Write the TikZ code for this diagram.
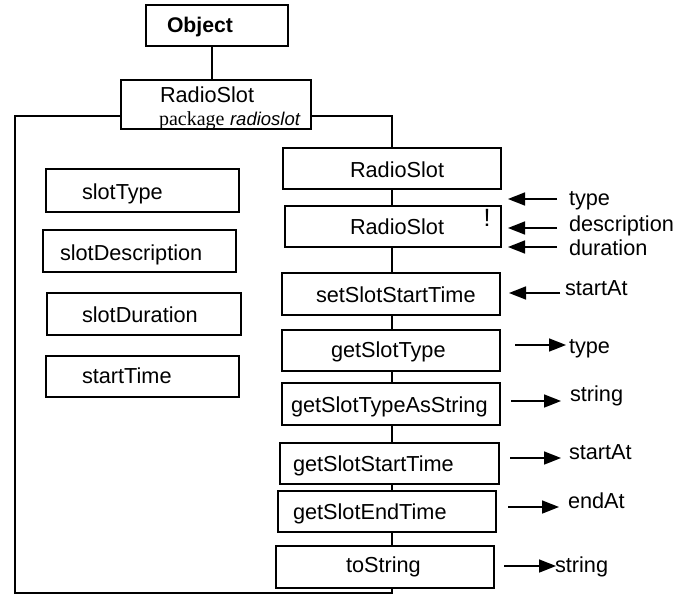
\documentclass[tikz,border=0pt]{standalone}
\usepackage{fontspec}
\setmainfont{Liberation Sans}
\newfontfamily\pkgserif{Liberation Serif}
\usetikzlibrary{arrows.meta}
\begin{document}
\begin{tikzpicture}[x=1pt,y=-1pt,
  box/.style={draw,line width=2.5pt,inner sep=0pt,outer sep=0pt},
  txt/.style={anchor=base west,inner sep=0pt,outer sep=0pt,font=\fontsize{21.7}{26}\selectfont},
  conn/.style={line width=2.5pt},
  arr/.style={line width=1.7pt,-{Triangle[length=17pt,width=13pt]}}]
\useasboundingbox (0,0) rectangle (682,615);
% boxes
\node[box,minimum width=142pt,minimum height=41pt] (obj) at (217,25.5) {};
\node[box,minimum width=190pt,minimum height=49pt] (pkg) at (216,104.5) {};
\node[box,minimum width=218pt,minimum height=41pt] (r1) at (392,168.5) {};
\node[box,minimum width=216pt,minimum height=41pt] (r2) at (393,226.5) {};
\node[box,minimum width=218pt,minimum height=42pt] (m1) at (391,294) {};
\node[box,minimum width=218pt,minimum height=41pt] (m2) at (391,350.5) {};
\node[box,minimum width=218pt,minimum height=42pt] (m3) at (391,404) {};
\node[box,minimum width=219pt,minimum height=41pt] (m4) at (389.5,463.5) {};
\node[box,minimum width=218pt,minimum height=41pt] (m5) at (387,511.5) {};
\node[box,minimum width=218pt,minimum height=42pt] (m6) at (385,567) {};
\node[box,minimum width=193pt,minimum height=43pt] (f1) at (142.5,190.5) {};
\node[box,minimum width=193pt,minimum height=42pt] (f2) at (139.5,251) {};
\node[box,minimum width=194pt,minimum height=42pt] (f3) at (144,314) {};
\node[box,minimum width=193pt,minimum height=41pt] (f4) at (142.5,376.5) {};
% texts in boxes
\node[txt,font=\fontsize{21.2}{26}\selectfont\bfseries] (tobj) at (167,33) {Object};
\node[txt] (tpkg) at (160,102.5) {RadioSlot};
\node[txt,font=\fontsize{20}{24}\selectfont] (tpkg2) at (159,125) {{\pkgserif package} \fontsize{18.5}{22}\selectfont\itshape radioslot};
\node[txt] (tr1) at (350,177) {RadioSlot};
\node[txt] (tr2) at (350,234) {RadioSlot};
\node[txt,font=\fontsize{25}{28}\selectfont] (excl) at (483.5,226) {!};
\node[txt] (tm1) at (316,302) {setSlotStartTime};
\node[txt] (tm2) at (331,357) {getSlotType};
\node[txt] (tm3) at (291,412) {getSlotTypeAsString};
\node[txt] (tm4) at (293,471) {getSlotStartTime};
\node[txt] (tm5) at (293,519) {getSlotEndTime};
\node[txt] (tm6) at (346,572) {toString};
\node[txt] (tf1) at (82,199) {slotType};
\node[txt] (tf2) at (60,260) {slotDescription};
\node[txt] (tf3) at (82,322) {slotDuration};
\node[txt] (tf4) at (82,383) {startTime};
% labels on right
\node[txt] (l1) at (569,205) {type};
\node[txt] (l2) at (569,231) {description};
\node[txt] (l3) at (569,255) {duration};
\node[txt] (l4) at (565,295) {startAt};
\node[txt] (l5) at (569,353) {type};
\node[txt] (l6) at (570,401) {string};
\node[txt] (l7) at (569,459) {startAt};
\node[txt] (l8) at (568,508) {endAt};
\node[txt] (l9) at (555,572) {string};
% connectors
\coordinate (spine) at (392,0);
\coordinate (lft) at (15,0);
\coordinate (bot) at (0,593);
\draw[conn] (obj.south -| 212,0) -- (pkg.north -| 212,0);
\draw[conn] ([yshift=-11.5pt]pkg.west) -| (lft |- bot) -| (m6.south -| spine);
\draw[conn] ([yshift=-11.5pt]pkg.east) -| (r1.north -| spine);
\draw[conn] (r1.south -| spine) -- (r2.north -| spine);
\draw[conn] (r2.south -| spine) -- (m1.north -| spine);
\draw[conn] (m1.south -| spine) -- (m2.north -| spine);
\draw[conn] (m2.south -| spine) -- (m3.north -| spine);
\draw[conn] (m3.south -| spine) -- (m4.north -| spine);
\draw[conn] (m4.south -| spine) -- (m5.north -| spine);
\draw[conn] (m5.south -| spine) -- (m6.north -| spine);
% arrows
\coordinate (a1s) at (557,199); \coordinate (a1e) at (508,199);
\coordinate (a2s) at (557,228); \coordinate (a2e) at (508,228);
\coordinate (a3s) at (557,247); \coordinate (a3e) at (508,247);
\coordinate (a4s) at (560,293); \coordinate (a4e) at (509,293);
\coordinate (a5s) at (515,345); \coordinate (a5e) at (566,345);
\coordinate (a6s) at (511,401); \coordinate (a6e) at (561,401);
\coordinate (a7s) at (510,458); \coordinate (a7e) at (561,458);
\coordinate (a8s) at (508,507); \coordinate (a8e) at (559,507);
\coordinate (a9s) at (504,566); \coordinate (a9e) at (556,566);
\foreach \i in {1,...,9} {\draw[arr] (a\i s) -- (a\i e);}
\end{tikzpicture}
\end{document}
